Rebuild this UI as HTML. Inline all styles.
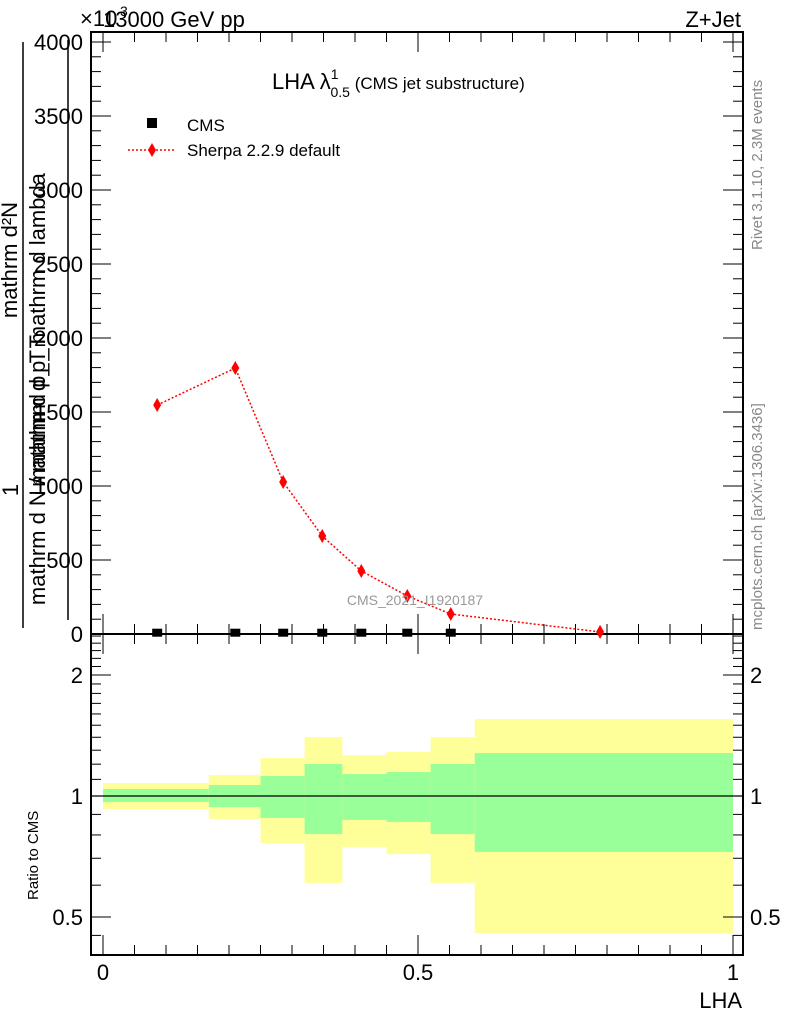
<!DOCTYPE html>
<html><head><meta charset="utf-8"><style>
body{margin:0;background:#fff;font-family:"Liberation Sans",sans-serif}
svg text{font-family:"Liberation Sans",sans-serif}
</style></head><body>
<svg id="c" width="786" height="1024" viewBox="0 0 786 1024" xmlns="http://www.w3.org/2000/svg">
<g id="g"></g>
</svg>
<script>
const binEdges=[0,0.168,0.25,0.32,0.38,0.45,0.52,0.59,1.0];
const yellowHi=[1.077,1.128,1.243,1.402,1.265,1.287,1.402,1.554];
const yellowLo=[0.928,0.877,0.764,0.608,0.747,0.717,0.608,0.456];
const greenHi=[1.041,1.065,1.121,1.201,1.134,1.147,1.201,1.279];
const greenLo=[0.966,0.939,0.882,0.804,0.872,0.862,0.804,0.726];
const sherpaX=[0.086,0.21,0.286,0.348,0.41,0.483,0.552,0.789];
const sherpaY=[1547,1797,1027,662,426,257,135,14];
const cmsX=[0.086,0.21,0.286,0.348,0.41,0.483,0.552];
const cmsY=[2,2,2,2,2,2,2];
const yTicks=[0,500,1000,1500,2000,2500,3000,3500,4000];
const xTicks=[0,0.5,1];
const rTicks=[0.5,1,2];

const NS="http://www.w3.org/2000/svg";
const g=document.getElementById('g');
function el(t,a,p){const e=document.createElementNS(NS,t);for(const k in a)e.setAttribute(k,a[k]);(p||g).appendChild(e);return e;}
const L=91,R=743,T=32,MB=634,RB=955;
const xs=v=>103+v*630;
const ys=v=>634-v*0.148;
const rs=v=>796-Math.log2(v)*121;

// ratio bands
for(let i=0;i<binEdges.length-1;i++){
 let r=el('rect',{x:xs(binEdges[i]),y:rs(yellowHi[i]),width:xs(binEdges[i+1])-xs(binEdges[i]),height:rs(yellowLo[i])-rs(yellowHi[i]),fill:'#ffff99'});
 
 
 let q=el('rect',{x:xs(binEdges[i]),y:rs(greenHi[i]),width:xs(binEdges[i+1])-xs(binEdges[i]),height:rs(greenLo[i])-rs(greenHi[i]),fill:'#99ff99'});
 
 
}
el('line',{x1:L,x2:R,y1:rs(1),y2:rs(1),stroke:'#000','stroke-width':1.2});

// frames
let f1=el('rect',{x:L,y:T,width:R-L,height:MB-T,fill:'none',stroke:'#000','stroke-width':2});

let f2=el('rect',{x:L,y:MB,width:R-L,height:RB-MB,fill:'none',stroke:'#000','stroke-width':2});


// main y ticks
for(let v=0;v<=4000;v+=100){const big=v%500==0;const w=big?20:10;
 el('line',{x1:L,x2:L+w,y1:ys(v),y2:ys(v),stroke:'#000'});el('line',{x1:R,x2:R-w,y1:ys(v),y2:ys(v),stroke:'#000'});}
yTicks.forEach(v=>{let t=el('text',{x:L-8,y:ys(v)+8,'text-anchor':'end','font-size':22});t.textContent=v;
 });
// x ticks
for(let v=0;v<=1.0001;v+=0.05){const big=Math.abs(v*2-Math.round(v*2))<1e-6;const h=big?20:10;const x=xs(v);
 el('line',{x1:x,x2:x,y1:MB,y2:MB-h,stroke:'#000'});el('line',{x1:x,x2:x,y1:MB,y2:MB+h,stroke:'#000'});
 el('line',{x1:x,x2:x,y1:RB,y2:RB-h,stroke:'#000'});el('line',{x1:x,x2:x,y1:T,y2:T+h,stroke:'#000'});}
xTicks.forEach(v=>{let t=el('text',{x:xs(v),y:980,'text-anchor':'middle','font-size':22});t.textContent=v;
 });
// ratio ticks
[0.45,0.5,0.6,0.7,0.8,0.9,1,1.1,1.2,1.3,1.4,1.5,1.6,1.7,1.8,1.9,2,2.1,2.2,2.3,2.4,2.5].forEach(v=>{const big=rTicks.includes(v);const w=big?20:10;
 el('line',{x1:L,x2:L+w,y1:rs(v),y2:rs(v),stroke:'#000'});el('line',{x1:R,x2:R-w,y1:rs(v),y2:rs(v),stroke:'#000'});});
rTicks.forEach(v=>{let t=el('text',{x:L-8,y:rs(v)+8,'text-anchor':'end','font-size':22});t.textContent=v;
 
 let u=el('text',{x:R+7,y:rs(v)+8,'font-size':22});u.textContent=v;
 });

// sherpa line + points
let pl=el('polyline',{points:sherpaX.map((x,i)=>xs(x)+','+ys(sherpaY[i])).join(' '),fill:'none',stroke:'#f00','stroke-width':1.5,'stroke-dasharray':'2,2'});

sherpaX.forEach((x,i)=>{const cx=xs(x),cy=ys(sherpaY[i]);
 let d=el('polygon',{points:`${cx},${cy-7} ${cx+4},${cy} ${cx},${cy+7} ${cx-4},${cy}`,fill:'#f00'});
 });
cmsX.forEach((x,i)=>{const cx=xs(x),cy=ys(cmsY[i]);
 let s=el('rect',{x:cx-5,y:cy-5,width:10,height:8,fill:'#000'});
 });
</script>
<svg style="position:absolute;left:0;top:0" width="786" height="1024">
<text x="80" y="26" font-size="22">×10</text>
<text x="120" y="16" font-size="14">3</text>
<text x="103" y="27" font-size="22">13000 GeV pp</text>
<text x="741" y="27" font-size="22" text-anchor="end">Z+Jet</text>
<text x="272" y="89" font-size="22">LHA λ<tspan font-size="14" dy="-10">1</tspan><tspan font-size="14" dx="-8" dy="18">0.5</tspan><tspan font-size="17" dy="-8"> (CMS jet substructure)</tspan></text>
<rect x="147" y="118" width="10" height="10" fill="#000"/>
<text x="187" y="131" font-size="17">CMS</text>
<line x1="128" x2="175" y1="150" y2="150" stroke="#f00" stroke-dasharray="2,2" stroke-width="1.5"/>
<polygon points="152,143 156,150 152,157 148,150" fill="#f00"/>
<text x="187" y="156" font-size="17">Sherpa 2.2.9 default</text>
<text x="415" y="605" font-size="14" fill="#999" text-anchor="middle">CMS_2021_I1920187</text>
<text transform="translate(762,250) rotate(-90)" font-size="15" fill="#888">Rivet 3.1.10,  2.3M events</text>
<text transform="translate(762,630) rotate(-90)" font-size="15" fill="#888">mcplots.cern.ch [arXiv:1306.3436]</text>
<text transform="translate(38,900) rotate(-90)" font-size="15">Ratio to CMS</text>
<text x="742" y="1008" font-size="22" text-anchor="end">LHA</text>
<g>
<text transform="translate(18,490) rotate(-90)" font-size="22" text-anchor="middle">1</text>
<line x1="23" x2="23" y1="42" y2="628" stroke="#000" stroke-width="1.5"/>
<text transform="translate(17,260) rotate(-90)" font-size="22" text-anchor="middle">mathrm d²N</text>
<text transform="translate(45,330) rotate(-90)" font-size="22" text-anchor="middle">mathrm d p_T mathrm d lambda</text>
<text transform="translate(45,470) rotate(-90)" font-size="22" text-anchor="middle">mathrm d N / mathrm d p_T</text>
<line x1="68" x2="68" y1="40" y2="620" stroke="#000" stroke-width="1.5"/>
</g>
</svg>
</body></html>
